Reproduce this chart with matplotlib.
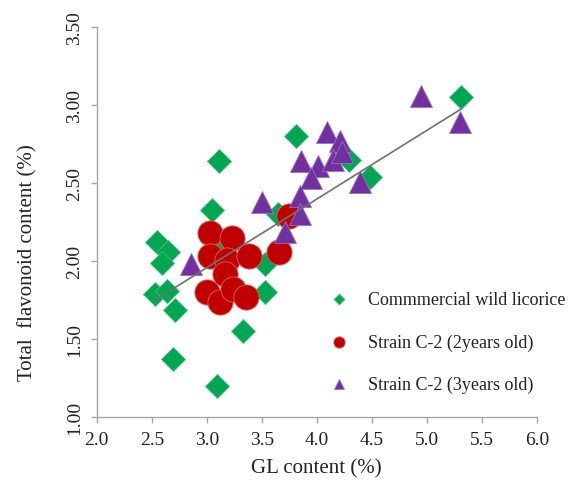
import numpy as np
import matplotlib
matplotlib.use("Agg")
import matplotlib.pyplot as plt

plt.rcParams['font.family'] = ['Liberation Serif', 'DejaVu Serif']

# GL content (%) vs total flavonoid content (%)
wild_gl = [5.31, 3.81, 3.11, 4.29, 4.48, 3.05, 3.65, 2.55, 2.65, 2.59, 3.12,
           3.53, 3.53, 2.53, 2.64, 2.71, 3.33, 2.69, 3.09]
wild_tf = [3.05, 2.80, 2.64, 2.65, 2.54, 2.33, 2.30, 2.12, 2.06, 1.99, 2.10,
           1.98, 1.80, 1.79, 1.81, 1.69, 1.55, 1.37, 1.20]

c2_2y_gl = [3.03, 3.23, 3.03, 3.18, 3.38, 3.66, 3.75, 3.17, 3.00, 3.12, 3.24, 3.36]
c2_2y_tf = [2.18, 2.15, 2.03, 2.01, 2.03, 2.06, 2.29, 1.92, 1.80, 1.74, 1.82, 1.77]

c2_3y_gl = [4.09, 4.21, 3.86, 4.01, 4.15, 3.95, 3.85, 3.50, 3.85, 3.71, 2.86,
            4.95, 5.30, 4.39, 4.23]
c2_3y_tf = [2.83, 2.77, 2.64, 2.61, 2.65, 2.53, 2.42, 2.38, 2.30, 2.19, 1.98,
            3.06, 2.89, 2.51, 2.70]

# linear trend line (slope, intercept)
trend = [0.44, 0.638]

labels = ['Commmercial wild licorice', 'Strain C-2 (2years old)', 'Strain C-2 (3years old)']
x_ticks = [2.0, 2.5, 3.0, 3.5, 4.0, 4.5, 5.0, 5.5, 6.0]
y_ticks = [1.00, 1.50, 2.00, 2.50, 3.00, 3.50]

green = '#00a651'
red = '#c00000'
purple = '#7030a0'

fig = plt.figure(figsize=(5.76, 5.02), dpi=100)
ax = fig.add_axes([0.168, 0.167, 0.764, 0.777])

all_x = np.array(wild_gl + c2_2y_gl + c2_3y_gl)
xs = np.array([all_x.min(), all_x.max()])
ax.plot(xs, trend[0] * xs + trend[1], color='#707070', lw=1.2, zorder=4)

ax.scatter(wild_gl, wild_tf, marker='D', s=150, color=green, edgecolors='#4cc080',
           linewidths=0.6, zorder=2, label=labels[0])
ax.scatter(c2_2y_gl, c2_2y_tf, marker='o', s=330, color=red, edgecolors='#e06060',
           linewidths=0.6, zorder=3, label=labels[1])
ax.scatter(c2_3y_gl, c2_3y_tf, marker='^', s=250, color=purple, edgecolors='#9a70c0',
           linewidths=0.6, zorder=3, label=labels[2])

ax.set_xlim(2.0, 6.0)
ax.set_ylim(1.0, 3.5)
ax.set_xticks(x_ticks)
ax.set_xticklabels([f'{t:.1f}' for t in x_ticks], fontsize=14)
ax.set_yticks(y_ticks)
ax.set_yticklabels([f'{t:.2f}' for t in y_ticks], fontsize=14, rotation=90, va='center')

for side in ['top', 'right']:
    ax.spines[side].set_visible(False)
for side in ['left', 'bottom']:
    ax.spines[side].set_color('#a6a6a6')
    ax.spines[side].set_linewidth(1.0)
ax.tick_params(colors='#a6a6a6', length=4, width=1.0, labelcolor='#222222')
ax.tick_params(axis='x', pad=6)
ax.tick_params(axis='y', pad=6)

ax.set_xlabel('GL content (%)', fontsize=15, color='#222222')
ax.set_ylabel('Total  flavonoid content (%)', fontsize=15, color='#222222')
ax.xaxis.set_label_coords(0.5, -0.105)
ax.yaxis.set_label_coords(-0.135, 0.40)

leg = ax.legend(loc='upper left', bbox_to_anchor=(0.49, 0.365), frameon=False,
                fontsize=13, markerscale=0.45, labelspacing=1.4,
                handletextpad=1.0, handlelength=1.2, scatterpoints=1)
for t in leg.get_texts():
    t.set_color('#222222')

fig.savefig('out.png', dpi=100)
